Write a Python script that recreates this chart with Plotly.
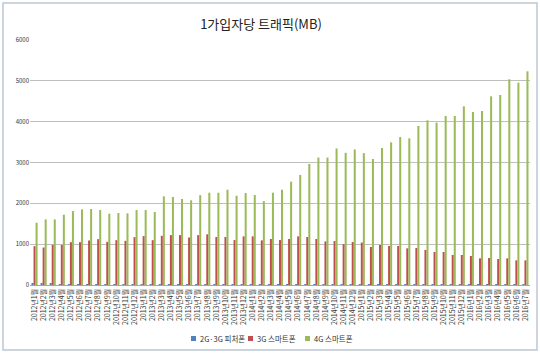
import plotly.graph_objects as go

months = []
for y in range(2012, 2017):
    last = 7 if y == 2016 else 12
    for m in range(1, last + 1):
        months.append(f"{y}년{m}월")

feature = [25, 25, 25, 24, 24, 24, 23, 23, 23, 23, 22, 22,
           22, 22, 22, 21, 21, 21, 21, 21, 20, 20, 20, 20,
           20, 20, 20, 20, 19, 19, 19, 19, 19, 19, 19, 19,
           19, 19, 19, 18, 18, 18, 18, 18, 18, 18, 18, 18,
           18, 18, 18, 18, 18, 18, 18]

smart3g = [951, 918, 984, 984, 1049, 1049, 1090, 1123, 1057, 1098, 1082, 1172,
           1197, 1098, 1205, 1221, 1221, 1164, 1221, 1241, 1175, 1175, 1101, 1191,
           1191, 1093, 1126, 1101, 1126, 1191, 1175, 1126, 1068, 1076, 1002, 1052,
           1040, 931, 980, 955, 955, 898, 906, 857, 808, 808, 735, 735,
           710, 653, 661, 637, 653, 604, 604]

smart4g = [1525, 1607, 1607, 1721, 1811, 1852, 1861, 1836, 1746, 1762, 1754, 1836,
           1836, 1787, 2172, 2156, 2107, 2074, 2200, 2260, 2260, 2334, 2186, 2251,
           2202, 2054, 2260, 2334, 2531, 2695, 2966, 3122, 3122, 3344, 3237, 3320,
           3230, 3086, 3355, 3494, 3624, 3592, 3894, 4033, 3976, 4139, 4139, 4376,
           4237, 4261, 4620, 4653, 5037, 4955, 5233]

series_names = ["2G·3G 피처폰", "3G 스마트폰", "4G 스마트폰"]
colors = ["#4F81BD", "#C0504D", "#9BBB59"]

FONT = "Noto Sans CJK KR"

fig = go.Figure()
for name, vals, col in zip(series_names, [feature, smart3g, smart4g], colors):
    fig.add_trace(go.Bar(x=months, y=vals, name=name, marker=dict(color=col, line=dict(width=0)),
                         showlegend=False))

W, H = 540, 353
L, R, T, B = 30, 10, 40, 68
pw, ph = W - L - R, H - T - B


def px2x(p):
    return (p - L) / pw


def px2y(p):
    return (T + ph - p) / ph


shapes = [dict(type="rect", xref="paper", yref="paper",
               x0=px2x(3), x1=px2x(537), y0=px2y(350), y1=px2y(3),
               line=dict(color="#BCC6D3", width=1.5), fillcolor="rgba(0,0,0,0)", layer="below")]
annotations = []
leg_x = [191, 248, 305]
leg_y = 338.5
for lx, name, col in zip(leg_x, series_names, colors):
    shapes.append(dict(type="rect", xref="paper", yref="paper",
                       x0=px2x(lx), x1=px2x(lx + 5), y0=px2y(leg_y + 2.5), y1=px2y(leg_y - 2.5),
                       line=dict(width=0), fillcolor=col))
    annotations.append(dict(xref="paper", yref="paper", x=px2x(lx + 6.5), y=px2y(leg_y),
                            xanchor="left", yanchor="middle", showarrow=False, text=name,
                            font=dict(family=FONT, size=7.5, color="#333333")))

fig.update_layout(
    width=W, height=H,
    margin=dict(l=L, r=R, t=T, b=B, autoexpand=False),
    paper_bgcolor="white", plot_bgcolor="white",
    barmode="group", bargap=0.33, bargroupgap=0,
    font=dict(family=FONT, color="#333333"),
    title=dict(text="1가입자당 트래픽(MB)", x=261 / W, xanchor="center", xref="container",
               y=1 - 24 / H, yanchor="middle", yref="container",
               font=dict(family=FONT, size=13, color="#222222")),
    showlegend=False,
    xaxis=dict(type="category", tickangle=-90, tickmode="linear", dtick=1,
               tickfont=dict(family=FONT, size=7, color="#333333"),
               showgrid=False, showline=True, linecolor="#A6A6A6", linewidth=1, ticks="",
               automargin=False),
    yaxis=dict(range=[0, 6000], dtick=1000, tickfont=dict(family=FONT, size=6, color="#333333"),
               showgrid=True, gridcolor="#BFBFBF", gridwidth=1, zeroline=False,
               showline=False, ticks="", automargin=False),
    shapes=shapes,
    annotations=annotations,
)

fig.write_html("out.html")
